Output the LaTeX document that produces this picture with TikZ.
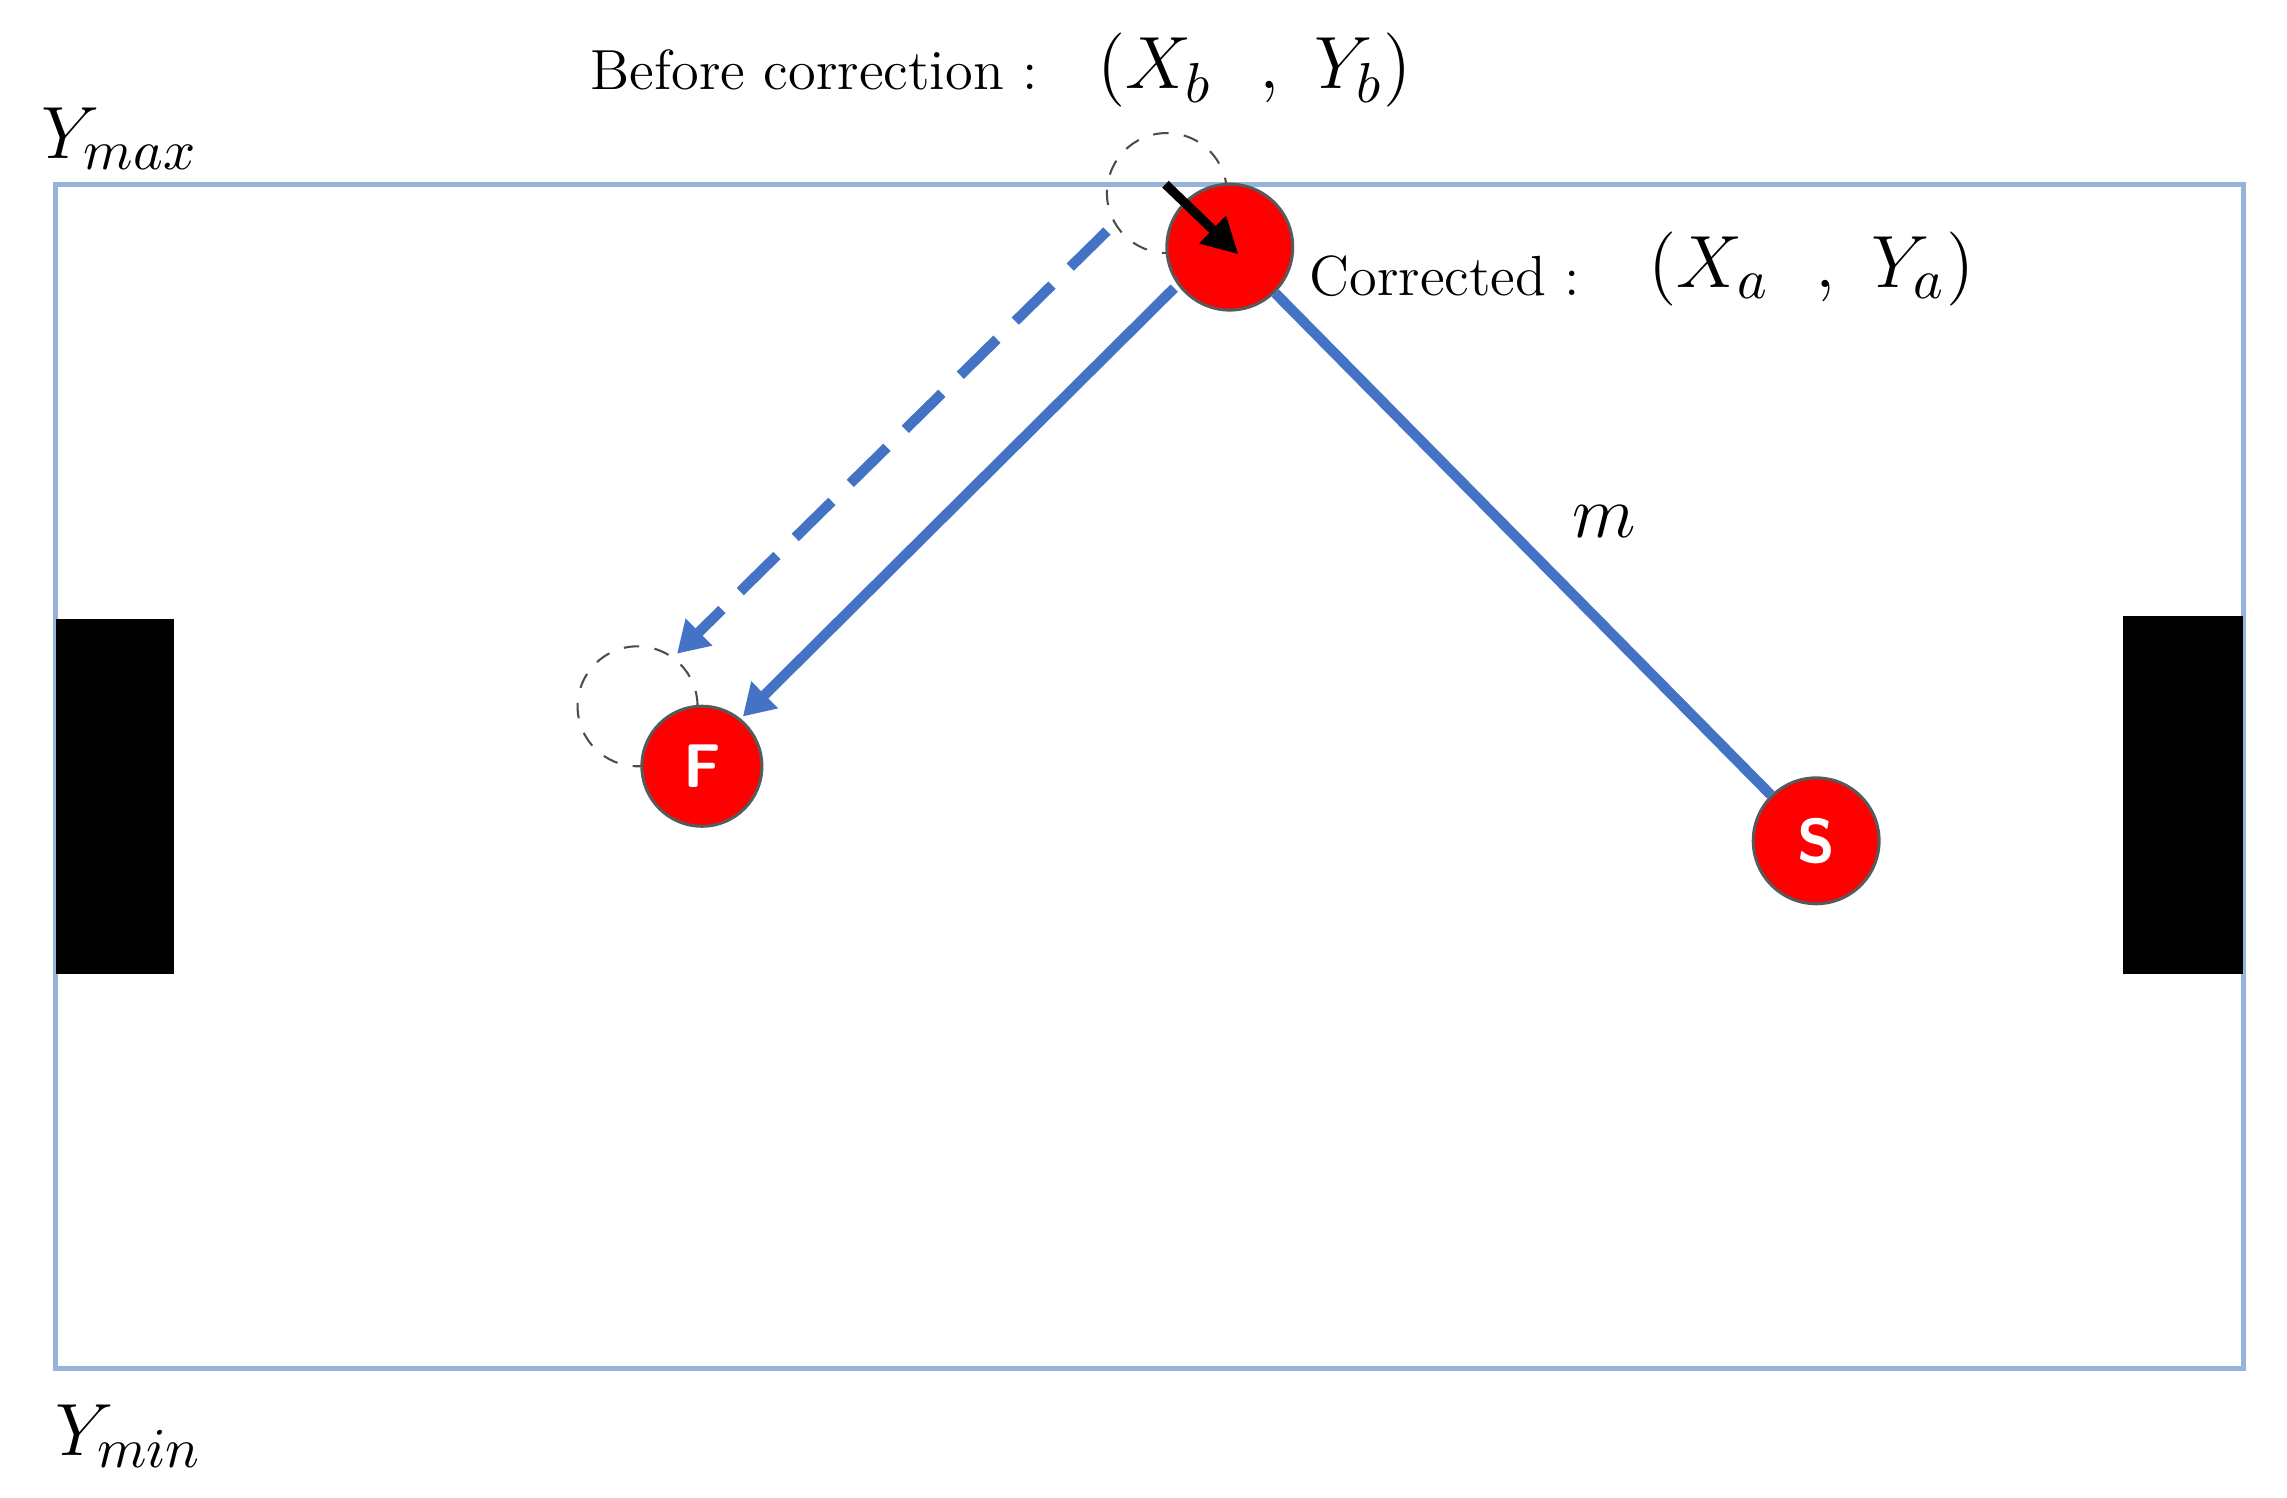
\documentclass[tikz,border=0pt]{standalone}
\usepackage{fontspec}
\usetikzlibrary{arrows.meta}
\definecolor{pblue}{RGB}{68,114,196}
\definecolor{fblue}{RGB}{150,180,215}
\begin{document}
\begin{tikzpicture}[x=0.01cm,y=-0.01cm,
  robot/.style={circle,draw=gray!70!black,fill=red,line width=0.6pt,minimum size=0.84cm,inner sep=0pt,text=white,font=\sffamily\bfseries\fontsize{12}{14}\selectfont},
  ghost/.style={circle,draw=black!70,dashed,line width=0.4pt,minimum size=0.82cm,inner sep=0pt},
  blk/.style={fill=black},
  path/.style={draw=pblue,line width=2pt},
  lbl/.style={font=\fontsize{11}{13}\selectfont},
  mth/.style={font=\fontsize{15}{18}\selectfont}]
\useasboundingbox (0,0) rectangle (1564,1024);
\draw[color=fblue,line width=1pt] (38,126) rectangle (1534,936);
\fill[blk] (38,423) rectangle (119,666);
\fill[blk] (1452,421) rectangle (1534,666);
\node[mth] (ymax) at (82,95) {$Y_{max}$};
\node[mth] (ymin) at (88,982) {$Y_{min}$};
\node[ghost] (bb) at (798,132) {};
\node[ghost] (fb) at (436,483) {};
\node[robot,minimum size=0.86cm] (a) at (841,169) {};
\node[robot,minimum size=0.82cm] (f) at (480,524) {F};
\node[robot,minimum size=0.86cm] (s) at (1242,575) {S};
\coordinate (k1) at (797,126);
\coordinate (k2) at (847,174);
\draw[-{Triangle[length=7pt,width=7pt]},line width=1.8pt] (k1) -- (k2);
\coordinate (d1) at (757,158);
\coordinate (d2) at (463,447);
\draw[path,dash pattern=on 10pt off 5pt,-{Triangle[length=6pt,width=7pt]}] (d1) -- (d2);
\coordinate (e1) at (803,197);
\coordinate (e2) at (508,490);
\draw[path,-{Triangle[length=6pt,width=7pt]}] (e1) -- (e2);
\draw[path] (a) -- (s);
\node[mth] (m) at (1097,357) {$m$};
\node[lbl,anchor=east] (bt) at (722,48) {Before correction :};
\node[mth,anchor=west] (bm) at (738,48) {$(X_b\ \ ,\ Y_b)$};
\node[lbl,anchor=east] (ct) at (1093,189) {Corrected :};
\node[mth,anchor=west] (cm) at (1115,184) {$(X_a\ \ ,\ Y_a)$};
\end{tikzpicture}
\end{document}
